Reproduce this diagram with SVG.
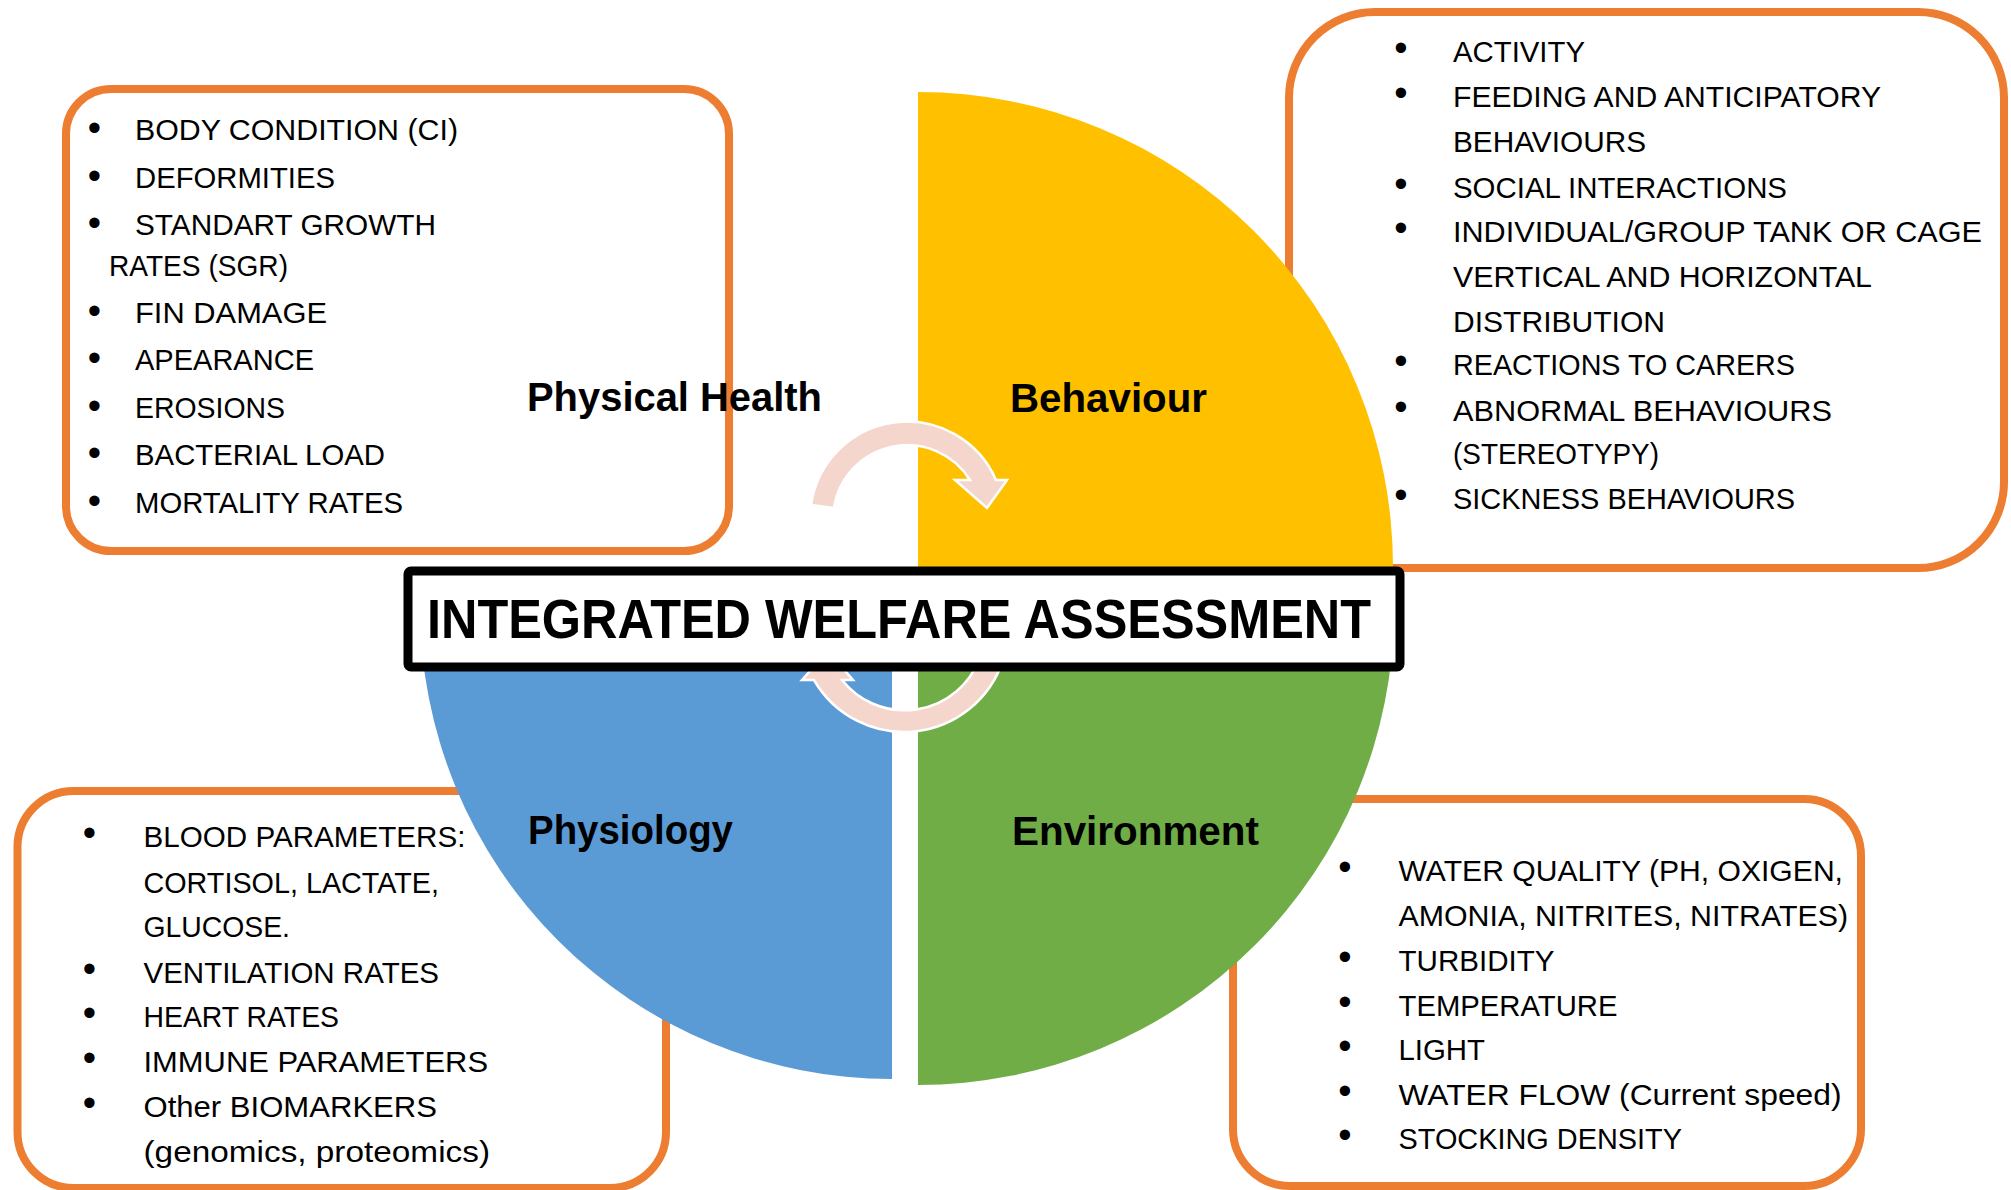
<svg xmlns="http://www.w3.org/2000/svg" width="2011" height="1190" viewBox="0 0 2011 1190">
<style>
.box{fill:#FFFFFF;stroke:#ED7D31;stroke-width:8}
.t{font-family:"Liberation Sans",Arial,sans-serif;font-size:29.5px;fill:#000000}
.b{font-family:"Liberation Sans",Arial,sans-serif;font-size:38px;fill:#000000;text-anchor:middle}
.h{font-family:"Liberation Sans",Arial,sans-serif;font-size:40px;font-weight:bold;fill:#000000}
.arrow{fill:#F5D6CC;stroke:#FFFFFF;stroke-width:2.5;stroke-linejoin:miter}
</style>
<rect width="2011" height="1190" fill="#FFFFFF"/>

<g id="physical-health-box">
<rect class="box" x="66" y="89" width="663" height="462" rx="45" ry="45"/>
<text class="b" x="94.5" y="141">•</text>
<text class="t" x="135" y="140" textLength="323" lengthAdjust="spacingAndGlyphs">BODY CONDITION (CI)</text>
<text class="b" x="94.5" y="189">•</text>
<text class="t" x="135" y="188" textLength="200" lengthAdjust="spacingAndGlyphs">DEFORMITIES</text>
<text class="b" x="94.5" y="236">•</text>
<text class="t" x="135" y="235" textLength="301" lengthAdjust="spacingAndGlyphs">STANDART GROWTH</text>
<text class="t" x="109" y="276" textLength="179" lengthAdjust="spacingAndGlyphs">RATES (SGR)</text>
<text class="b" x="94.5" y="324">•</text>
<text class="t" x="135" y="323" textLength="192" lengthAdjust="spacingAndGlyphs">FIN DAMAGE</text>
<text class="b" x="94.5" y="371">•</text>
<text class="t" x="135" y="370" textLength="179" lengthAdjust="spacingAndGlyphs">APEARANCE</text>
<text class="b" x="94.5" y="419">•</text>
<text class="t" x="135" y="418" textLength="150" lengthAdjust="spacingAndGlyphs">EROSIONS</text>
<text class="b" x="94.5" y="466">•</text>
<text class="t" x="135" y="465" textLength="250" lengthAdjust="spacingAndGlyphs">BACTERIAL LOAD</text>
<text class="b" x="94.5" y="514">•</text>
<text class="t" x="135" y="513" textLength="268" lengthAdjust="spacingAndGlyphs">MORTALITY RATES</text>
</g>

<g id="behaviour-box">
<rect class="box" x="1289" y="12" width="715" height="556" rx="86" ry="86"/>
<text class="b" x="1401" y="61">•</text>
<text class="t" x="1453" y="62" textLength="132" lengthAdjust="spacingAndGlyphs">ACTIVITY</text>
<text class="b" x="1401" y="106">•</text>
<text class="t" x="1453" y="107" textLength="428" lengthAdjust="spacingAndGlyphs">FEEDING AND ANTICIPATORY</text>
<text class="t" x="1453" y="152" textLength="193" lengthAdjust="spacingAndGlyphs">BEHAVIOURS</text>
<text class="b" x="1401" y="197">•</text>
<text class="t" x="1453" y="198" textLength="334" lengthAdjust="spacingAndGlyphs">SOCIAL INTERACTIONS</text>
<text class="b" x="1401" y="241">•</text>
<text class="t" x="1453" y="242" textLength="529" lengthAdjust="spacingAndGlyphs">INDIVIDUAL/GROUP TANK OR CAGE</text>
<text class="t" x="1453" y="287" textLength="419" lengthAdjust="spacingAndGlyphs">VERTICAL AND HORIZONTAL</text>
<text class="t" x="1453" y="332" textLength="212" lengthAdjust="spacingAndGlyphs">DISTRIBUTION</text>
<text class="b" x="1401" y="374">•</text>
<text class="t" x="1453" y="375" textLength="342" lengthAdjust="spacingAndGlyphs">REACTIONS TO CARERS</text>
<text class="b" x="1401" y="420">•</text>
<text class="t" x="1453" y="421" textLength="379" lengthAdjust="spacingAndGlyphs">ABNORMAL BEHAVIOURS</text>
<text class="t" x="1453" y="464" textLength="206" lengthAdjust="spacingAndGlyphs">(STEREOTYPY)</text>
<text class="b" x="1401" y="508">•</text>
<text class="t" x="1453" y="509" textLength="342" lengthAdjust="spacingAndGlyphs">SICKNESS BEHAVIOURS</text>
</g>

<g id="physiology-box">
<rect class="box" x="17.5" y="791" width="648.5" height="397" rx="56" ry="56"/>
<text class="b" x="89.5" y="846">•</text>
<text class="t" x="143.5" y="847" textLength="322" lengthAdjust="spacingAndGlyphs">BLOOD PARAMETERS:</text>
<text class="t" x="143.5" y="893" textLength="295.5" lengthAdjust="spacingAndGlyphs">CORTISOL, LACTATE,</text>
<text class="t" x="143.5" y="937" textLength="146.5" lengthAdjust="spacingAndGlyphs">GLUCOSE.</text>
<text class="b" x="89.5" y="982">•</text>
<text class="t" x="143.5" y="983" textLength="295.5" lengthAdjust="spacingAndGlyphs">VENTILATION RATES</text>
<text class="b" x="89.5" y="1026">•</text>
<text class="t" x="143.5" y="1027" textLength="195.5" lengthAdjust="spacingAndGlyphs">HEART RATES</text>
<text class="b" x="89.5" y="1071">•</text>
<text class="t" x="143.5" y="1072" textLength="344.5" lengthAdjust="spacingAndGlyphs">IMMUNE PARAMETERS</text>
<text class="b" x="89.5" y="1116">•</text>
<text class="t" x="143.5" y="1117" textLength="293.5" lengthAdjust="spacingAndGlyphs">Other BIOMARKERS</text>
<text class="t" x="143.5" y="1162" textLength="346.5" lengthAdjust="spacingAndGlyphs">(genomics, proteomics)</text>
</g>

<g id="environment-box">
<rect class="box" x="1233" y="799" width="628" height="387" rx="57" ry="57"/>
<text class="b" x="1345" y="880">•</text>
<text class="t" x="1398.5" y="881" textLength="444.5" lengthAdjust="spacingAndGlyphs">WATER QUALITY (PH, OXIGEN,</text>
<text class="t" x="1398.5" y="925.5" textLength="449.5" lengthAdjust="spacingAndGlyphs">AMONIA, NITRITES, NITRATES)</text>
<text class="b" x="1345" y="969.5">•</text>
<text class="t" x="1398.5" y="970.5" textLength="156" lengthAdjust="spacingAndGlyphs">TURBIDITY</text>
<text class="b" x="1345" y="1014.5">•</text>
<text class="t" x="1398.5" y="1015.5" textLength="219" lengthAdjust="spacingAndGlyphs">TEMPERATURE</text>
<text class="b" x="1345" y="1059">•</text>
<text class="t" x="1398.5" y="1060" textLength="86.5" lengthAdjust="spacingAndGlyphs">LIGHT</text>
<text class="b" x="1345" y="1103.5">•</text>
<text class="t" x="1398.5" y="1104.5" textLength="443" lengthAdjust="spacingAndGlyphs">WATER FLOW (Current speed)</text>
<text class="b" x="1345" y="1148">•</text>
<text class="t" x="1398.5" y="1149" textLength="283.5" lengthAdjust="spacingAndGlyphs">STOCKING DENSITY</text>
</g>

<g id="behaviour-quadrant">
<path d="M918,567 L918,92 A475,475 0 0 1 1393,567 Z" fill="#FFC000"/>
</g>
<g id="environment-quadrant">
<path d="M918,609 L1394,609 A476,476 0 0 1 918,1085 Z" fill="#70AD47"/>
</g>
<g id="physiology-quadrant">
<path d="M892,607 L892,1079 A472,472 0 0 1 420,607 Z" fill="#5B9BD5"/>
</g>

<g id="connectors">
<path class="arrow" d="M811,505 A97,97 0 0 1 996,480 L1007,480 L987,508 L955,480 L970,480 A74,74 0 0 0 834,508 Z"/>
<path class="arrow" d="M1003,660 A104,104 0 0 1 814,680 L802,680 L828,651 L853,680 L842,680 A80,80 0 0 0 979,660 Z"/>
</g>

<g id="title">
<rect x="408" y="571" width="992" height="96" rx="3" ry="3" fill="#FFFFFF" stroke="#000000" stroke-width="9"/>
<text x="427" y="638" font-family="Liberation Sans, Arial, sans-serif" font-size="55" font-weight="bold" fill="#000000" textLength="944" lengthAdjust="spacingAndGlyphs">INTEGRATED WELFARE ASSESSMENT</text>
</g>

<g id="labels">
<text class="h" x="527" y="411" textLength="295" lengthAdjust="spacingAndGlyphs">Physical Health</text>
<text class="h" x="1010" y="412" textLength="197" lengthAdjust="spacingAndGlyphs">Behaviour</text>
<text class="h" x="528" y="844" textLength="205" lengthAdjust="spacingAndGlyphs">Physiology</text>
<text class="h" x="1012" y="845" textLength="247" lengthAdjust="spacingAndGlyphs">Environment</text>
</g>
</svg>
